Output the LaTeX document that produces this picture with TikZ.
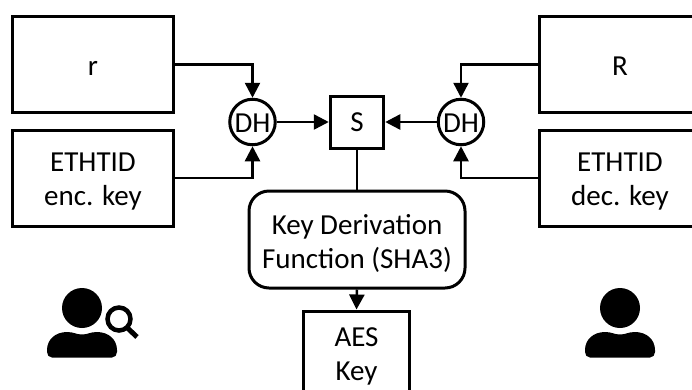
\documentclass[tikz,border=0pt]{standalone}
\usepackage{fontspec}
\setmainfont{Carlito}
\usetikzlibrary{arrows.meta,calc}
\newcommand{\up}[1]{\rule{0pt}{#1pt}}
\tikzset{
  basebox/.style={draw=black,line width=3pt,fill=white,align=center,inner sep=0pt,font=\fontsize{29}{34}\selectfont},
  sidebox/.style={basebox,minimum width=161pt,minimum height=96pt},
  dhnode/.style={basebox,circle,minimum size=45.5pt},
  conn/.style={draw=black,line width=2.5pt,-{Triangle[length=15pt,width=15pt]}},
  plainconn/.style={draw=black,line width=2.5pt},
  icon/.style={fill=black,draw=none}
}
\newcommand{\personbody}[1]{%
  \fill[icon,shift={(#1,0)}] (-35,350) .. controls (-35,339) and (-26,332) .. (-15,332)
   .. controls (-8,332) and (-6,334.5) .. (0,334.5)
   .. controls (6,334.5) and (8,332) .. (15,332)
   .. controls (26,332) and (35,339) .. (35,350)
   -- (35,352) .. controls (35,355) and (33,357.5) .. (30,357.5)
   -- (-30,357.5) .. controls (-33,357.5) and (-35,355) .. (-35,352) -- cycle;
}
\begin{document}
\begin{tikzpicture}[x=1pt,y=-1pt]
\useasboundingbox (0,0) rectangle (692,389);
\clip (0,0) rectangle (692,389);
\node[sidebox] (r) at (93,64.5) {\up{22}r};
\node[sidebox] (enc) at (93,178) {\up{25}ETHTID\\enc. key};
\node[sidebox] (R) at (620,64.5) {\up{22}R};
\node[sidebox] (dec) at (620,178) {\up{25}ETHTID\\dec. key};
\node[dhnode] (dhl) at (252.5,122) {\up{20}DH};
\node[dhnode] (dhr) at (461,122) {\up{20}DH};
\node[basebox,minimum width=53.5pt,minimum height=52pt] (s) at (357,122) {\up{20}S};
\node[basebox,rounded corners=20pt,minimum width=216pt,minimum height=97pt] (kdf) at (357,239.5) {\up{28}Key Derivation\\Function (SHA3)};
\node[basebox,minimum width=106pt,minimum height=90pt] (aes) at (356.5,356) {\up{20}AES\\Key};
\draw[conn] (r.east) -| (dhl.north);
\draw[conn] (enc.east) -| (dhl.south);
\draw[conn] (R.west) -| (dhr.north);
\draw[conn] (dec.west) -| (dhr.south);
\draw[conn] (dhl.east) -- (s.west);
\draw[conn] (dhr.west) -- (s.east);
\draw[plainconn] (s.south) -- (kdf.north);
\draw[conn] (kdf.south) -- (aes.north);
% left person with magnifier
\fill[icon] (82,308) circle (20);
\personbody{82}
\draw[line width=4.5pt,black] (119,319) circle (11.5);
\draw[line width=5pt,black] (127.5,328) -- (137,337);
% right person
\fill[icon] (620,308) circle (20);
\personbody{620}
\end{tikzpicture}
\end{document}
